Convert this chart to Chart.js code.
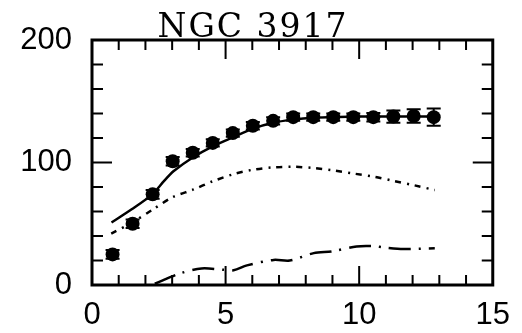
<!DOCTYPE html>
<html>
<head>
<meta charset="utf-8">
<script src="https://cdn.jsdelivr.net/npm/chart.js@4"></script>
<style>
  html, body { margin: 0; padding: 0; background: #fff; }
  canvas { display: block; }
</style>
</head>
<body>
<canvas id="rc" width="522" height="333"></canvas>
<script>
// NGC 3917 rotation curve: observed velocities and model components
const titleText = 'NGC 3917';

// observed rotation velocities (km/s) at radius (kpc) with errors
const obsR   = [0.77, 1.52, 2.27, 3.02, 3.77, 4.52, 5.27, 6.02, 6.78, 7.53, 8.28, 9.03, 9.78, 10.53, 11.28, 12.04, 12.79];
const obsV   = [25, 50, 74, 101, 108, 116, 124, 130, 134, 137, 137, 137, 137, 137, 137.5, 138, 137];
const obsErr = [3.5, 3.5, 3.5, 3.5, 3, 3, 3, 3, 3, 3, 3, 3, 3, 3.5, 5, 5.5, 7];

// total model curve
const totalR = [0.73, 1.5, 2.26, 2.7, 3.06, 3.8, 4.5, 5.27, 6.0, 6.78, 7.53, 8.28, 9.03, 9.78, 10.53, 11.28, 12.04, 12.79];
const totalV = [51, 62, 74, 85, 93, 104.5, 113, 120.5, 127.5, 132.5, 135, 136.5, 137, 137.5, 137.5, 137.5, 137.5, 137.5];

// stellar disk contribution
const diskR = [0.72, 1.5, 2.27, 3.0, 3.8, 4.5, 5.3, 6.0, 6.78, 7.53, 8.28, 9.03, 9.78, 10.53, 11.28, 12.04, 12.83];
const diskV = [42, 51, 61.5, 71.5, 78, 84.5, 90.5, 94, 96, 96.5, 95.5, 93.5, 91, 88.5, 85, 81.5, 77.5];

// gas contribution
const gasR = [2.35, 3.3, 4.1, 4.9, 5.3, 5.8, 6.8, 7.4, 8.3, 9.0, 9.9, 10.5, 11.0, 11.65, 12.83];
const gasV = [1, 9.5, 13.5, 12.5, 12, 16, 20.5, 20, 26, 27.5, 31.5, 31.8, 30.5, 29.4, 30];

// axis ticks
const xTicks = [0, 5, 10, 15];
const yTicks = [0, 100, 200];

const pts = (xs, ys) => xs.map((x, i) => ({ x: x, y: ys[i] }));

// frame, inward tick marks, error bars and title
const framePlugin = {
  id: 'frame',
  beforeDatasetsDraw(chart) {
    const ctx = chart.ctx;
    const xs = chart.scales.x, ys = chart.scales.y;
    ctx.save();
    ctx.strokeStyle = '#000';
    ctx.lineWidth = 2;
    obsR.forEach((r, i) => {
      const px = xs.getPixelForValue(r);
      const y1 = ys.getPixelForValue(obsV[i] - obsErr[i]);
      const y2 = ys.getPixelForValue(obsV[i] + obsErr[i]);
      ctx.beginPath();
      ctx.moveTo(px, y1); ctx.lineTo(px, y2);
      ctx.moveTo(px - 7, y1); ctx.lineTo(px + 7, y1);
      ctx.moveTo(px - 7, y2); ctx.lineTo(px + 7, y2);
      ctx.stroke();
    });
    ctx.restore();
  },
  afterDraw(chart) {
    const ctx = chart.ctx;
    const a = chart.chartArea;
    const xs = chart.scales.x, ys = chart.scales.y;
    ctx.save();
    ctx.strokeStyle = '#000';
    ctx.lineWidth = 2;
    ctx.beginPath();
    for (let v = xs.min + 1; v < xs.max; v += 1) {
      const px = xs.getPixelForValue(v);
      const len = (v % 5 === 0) ? 19 : 10;
      ctx.moveTo(px, a.bottom); ctx.lineTo(px, a.bottom - len);
      ctx.moveTo(px, a.top); ctx.lineTo(px, a.top + len);
    }
    for (let v = ys.min + 20; v < ys.max; v += 20) {
      const py = ys.getPixelForValue(v);
      const len = (v % 100 === 0) ? 20 : 11;
      ctx.moveTo(a.left, py); ctx.lineTo(a.left + len, py);
      ctx.moveTo(a.right, py); ctx.lineTo(a.right - len, py);
    }
    ctx.stroke();
    ctx.lineWidth = 3;
    ctx.strokeRect(a.left, a.top, a.right - a.left, a.bottom - a.top);

    ctx.fillStyle = '#000';
    ctx.font = '33px "DejaVu Serif"';
    ctx.letterSpacing = '2px';
    ctx.textAlign = 'center';
    ctx.textBaseline = 'alphabetic';
    ctx.fillText(titleText, 253, 37);
    ctx.restore();
  }
};

new Chart(document.getElementById('rc'), {
  type: 'scatter',
  data: {
    datasets: [
      {
        label: 'total',
        data: pts(totalR, totalV),
        showLine: true,
        borderColor: '#000',
        borderWidth: 2.5,
        pointRadius: 0,
        tension: 0.25
      },
      {
        label: 'disk',
        data: pts(diskR, diskV),
        showLine: true,
        borderColor: '#000',
        borderWidth: 2.5,
        borderDash: [6, 6, 2, 6],
        pointRadius: 0,
        tension: 0.3
      },
      {
        label: 'gas',
        data: pts(gasR, gasV),
        showLine: true,
        borderColor: '#000',
        borderWidth: 2.5,
        borderDash: [22, 8, 2, 8],
        pointRadius: 0,
        tension: 0.3
      },
      {
        label: 'observed',
        data: pts(obsR, obsV),
        showLine: false,
        pointStyle: 'circle',
        pointRadius: 7,
        backgroundColor: '#000',
        borderColor: '#000',
        borderWidth: 0
      }
    ]
  },
  options: {
    responsive: false,
    animation: false,
    events: [],
    layout: { padding: { top: 40, right: 23, left: 0, bottom: 0 } },
    plugins: {
      legend: { display: false },
      title: { display: false },
      tooltip: { enabled: false }
    },
    scales: {
      x: {
        type: 'linear',
        min: 0,
        max: 15,
        afterFit(scale) { scale.height = 48; },
        afterBuildTicks(scale) { scale.ticks = xTicks.map(v => ({ value: v })); },
        grid: { display: false, drawTicks: false },
        border: { display: false },
        ticks: {
          autoSkip: false,
          maxRotation: 0,
          padding: 12,
          color: '#000',
          font: { family: '"Liberation Sans"', size: 31 }
        }
      },
      y: {
        type: 'linear',
        min: 0,
        max: 200,
        afterFit(scale) { scale.width = 92; },
        afterBuildTicks(scale) { scale.ticks = yTicks.map(v => ({ value: v })); },
        grid: { display: false, drawTicks: false },
        border: { display: false },
        ticks: {
          autoSkip: false,
          padding: 20,
          color: '#000',
          font: { family: '"Liberation Sans"', size: 31 }
        }
      }
    }
  },
  plugins: [framePlugin]
});
</script>
</body>
</html>
